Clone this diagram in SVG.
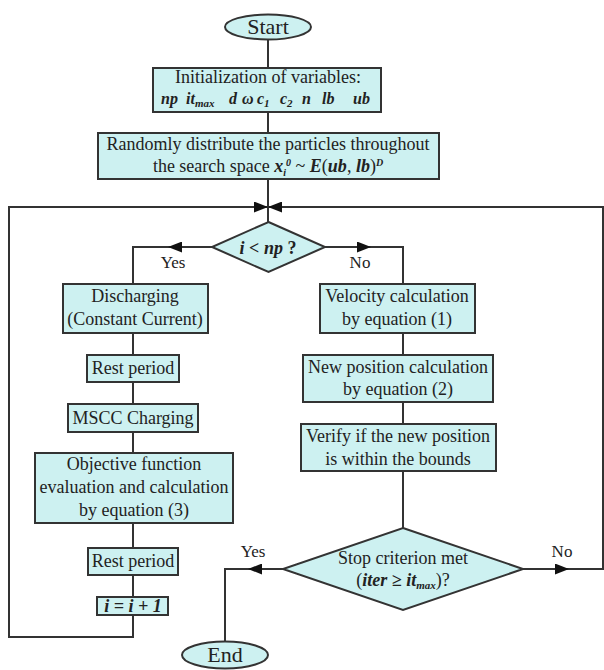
<svg xmlns="http://www.w3.org/2000/svg" width="604" height="670" viewBox="0 0 604 670">
<defs>
<style>
.t{font-family:"Liberation Serif","Times New Roman",serif;font-size:18px;fill:#222;text-anchor:middle}
.ts{font-family:"Liberation Serif","Times New Roman",serif;font-size:16px;fill:#222}
.lbl{font-size:17px}
.m{font-style:italic;font-weight:bold}
.s{font-size:11px}
.sm{font-size:10px}
.big{font-size:22px}
.box{fill:#cdf1f1;stroke:#333;stroke-width:2}
.ln{fill:none;stroke:#333;stroke-width:2}
</style>
<marker id="ah" viewBox="0 0 10 10" refX="10" refY="5" markerWidth="14" markerHeight="11" markerUnits="userSpaceOnUse" orient="auto" preserveAspectRatio="none">
<path d="M0,0 L10,5 L0,10 z" fill="#111"/>
</marker>
</defs>
<rect width="604" height="670" fill="#fff"/>

<g id="connectors">
<path class="ln" d="M268,39 V68"/>
<path class="ln" d="M268,112 V133"/>
<path class="ln" d="M268,179 V222"/>
<path class="ln" d="M133,615 V637 H9 V207 H268"/>
<path class="ln" d="M523,569 H603 V207 H268"/>
<path class="ln" d="M256,207 L268,207" marker-end="url(#ah)"/>
<path class="ln" d="M280,207 L268,207" marker-end="url(#ah)"/>
<path class="ln" d="M212,247 H133 V284"/>
<path class="ln" d="M183,247 L168,247" marker-end="url(#ah)"/>
<path class="ln" d="M325,247 H403 V284"/>
<path class="ln" d="M356,247 L371,247" marker-end="url(#ah)"/>
<path class="ln" d="M133,333 V355"/>
<path class="ln" d="M133,382 V404"/>
<path class="ln" d="M133,432 V453"/>
<path class="ln" d="M133,523 V548"/>
<path class="ln" d="M133,575 V597"/>
<path class="ln" d="M403,333 V355"/>
<path class="ln" d="M403,402 V424"/>
<path class="ln" d="M403,471 V528"/>
<path class="ln" d="M283,569 H225 V641"/>
<path class="ln" d="M263,569 L248,569" marker-end="url(#ah)"/>
<path class="ln" d="M554,569 L569,569" marker-end="url(#ah)"/>
<text class="t lbl" x="173" y="268">Yes</text>
<text class="t lbl" x="360" y="268">No</text>
<text class="t lbl" x="253" y="557">Yes</text>
<text class="t lbl" x="562" y="557">No</text>
</g>

<g id="start">
<ellipse class="box" cx="268" cy="27" rx="43" ry="12.5"/>
<text class="t big" x="268" y="34">Start</text>
</g>

<g id="init">
<rect class="box" x="153" y="68" width="228" height="44"/>
<text class="t" x="268" y="83">Initialization of variables:</text>
<text class="ts m" x="161" y="104">np</text>
<text class="ts m" x="186" y="104">it<tspan class="s" dy="3">max</tspan></text>
<text class="ts m" x="229" y="104">d</text>
<text class="ts m" x="242" y="104">ω</text>
<text class="ts m" x="257" y="104">c<tspan class="s" dy="3">1</tspan></text>
<text class="ts m" x="280" y="104">c<tspan class="s" dy="3">2</tspan></text>
<text class="ts m" x="302" y="104">n</text>
<text class="ts m" x="322" y="104">lb</text>
<text class="ts m" x="353" y="104">ub</text>
</g>

<g id="distribute">
<rect class="box" x="98" y="133" width="341" height="46"/>
<text class="t" x="268" y="150">Randomly distribute the particles throughout</text>
<text class="t" x="268" y="172">the search space <tspan class="m">x</tspan><tspan class="sm m" dy="4">i</tspan><tspan class="sm m" dy="-10">0</tspan><tspan dy="6"> ~ </tspan><tspan class="m">E</tspan>(<tspan class="m">ub</tspan>, <tspan class="m">lb</tspan>)<tspan class="sm m" dy="-6">D</tspan></text>
</g>

<g id="decision-np">
<polygon class="box" points="268.5,222 325,247 268.5,272 212,247"/>
<text class="t" x="268" y="254" font-size="20" font-weight="bold"><tspan class="m">i</tspan> &lt; <tspan class="m">np</tspan> ?</text>
</g>

<g id="discharging">
<rect class="box" x="63" y="284" width="145" height="49"/>
<text class="t" x="135" y="302">Discharging</text>
<text class="t" x="135" y="325">(Constant Current)</text>
</g>

<g id="rest1">
<rect class="box" x="87" y="355" width="92" height="27"/>
<text class="t" x="133" y="374">Rest period</text>
</g>

<g id="mscc">
<rect class="box" x="68" y="404" width="130" height="28"/>
<text class="t" x="133" y="424">MSCC Charging</text>
</g>

<g id="objective">
<rect class="box" x="35" y="453" width="198" height="70"/>
<text class="t" x="134" y="470">Objective function</text>
<text class="t" x="134" y="493">evaluation and calculation</text>
<text class="t" x="134" y="516">by equation (3)</text>
</g>

<g id="rest2">
<rect class="box" x="88" y="548" width="90" height="27"/>
<text class="t" x="133" y="567">Rest period</text>
</g>

<g id="increment">
<rect class="box" x="97" y="597" width="71" height="18"/>
<text class="t m" x="133" y="612" font-size="16"><tspan>i</tspan> = <tspan>i</tspan> + 1</text>
</g>

<g id="velocity">
<rect class="box" x="320" y="284" width="155" height="49"/>
<text class="t" x="397" y="302">Velocity calculation</text>
<text class="t" x="397" y="325">by equation (1)</text>
</g>

<g id="newposition">
<rect class="box" x="303" y="355" width="190" height="47"/>
<text class="t" x="398" y="373">New position calculation</text>
<text class="t" x="398" y="395">by equation (2)</text>
</g>

<g id="verify">
<rect class="box" x="301" y="424" width="195" height="47"/>
<text class="t" x="398" y="442">Verify if the new position</text>
<text class="t" x="398" y="465">is within the bounds</text>
</g>

<g id="stop">
<polygon class="box" points="403,528 523,569 403,610 283,569"/>
<text class="t" x="403" y="564">Stop criterion met</text>
<text class="t" x="403" y="586">(<tspan class="m">iter ≥ it</tspan><tspan class="m s" dy="3">max</tspan><tspan dy="-3">)?</tspan></text>
</g>

<g id="end">
<ellipse class="box" cx="225" cy="655" rx="43" ry="13.5"/>
<text class="t big" x="225" y="662">End</text>
</g>
</svg>
